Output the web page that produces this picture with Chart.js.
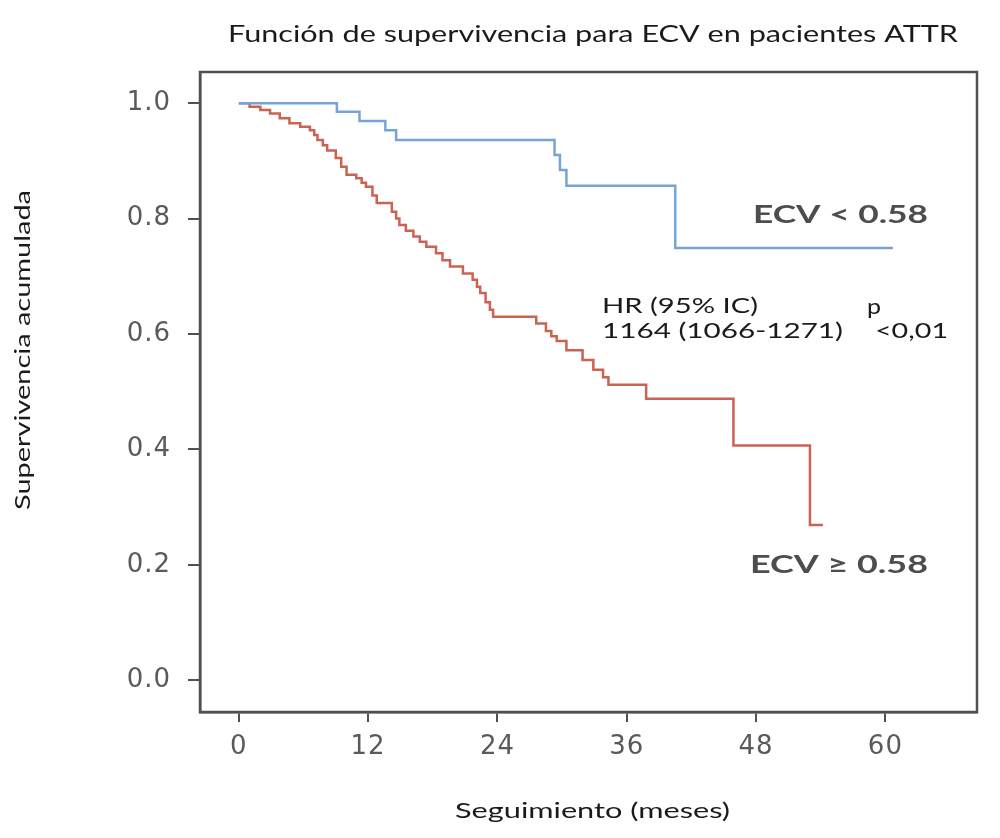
<!DOCTYPE html>
<html>
<head>
<meta charset="utf-8">
<script src="https://cdn.jsdelivr.net/npm/chart.js@4"></script>
<style>
  body { margin: 0; background: #fff; }
  #wrap { width: 1000px; height: 838px; position: relative; }
</style>
</head>
<body>
<div id="wrap"><canvas id="kmChart"></canvas></div>
<script>
// Kaplan-Meier curves (months, cumulative survival)
const redTimes = [0, 1.0, 2.0, 2.9, 3.8, 4.7, 5.7, 6.6, 7.0, 7.3, 7.8, 8.2, 9.0, 9.5, 10.0, 10.9, 11.4, 11.8, 12.4, 12.8,
  14.2, 14.6, 14.9, 15.5, 16.2, 16.8, 17.4, 18.3, 18.9, 19.6, 20.8, 21.7, 22.1, 22.4, 22.9, 23.3, 23.6,
  27.6, 28.5, 29.0, 29.5, 30.4, 31.9, 32.9, 33.8, 34.3, 37.8, 45.9, 53.0, 54.2];
const redSurv = [1.0, 0.994, 0.988, 0.982, 0.974, 0.965, 0.959, 0.953, 0.945, 0.936, 0.927, 0.918, 0.905, 0.890, 0.876, 0.870, 0.862, 0.855, 0.840, 0.827,
  0.812, 0.800, 0.789, 0.779, 0.769, 0.760, 0.751, 0.740, 0.728, 0.717, 0.705, 0.694, 0.682, 0.671, 0.655, 0.642, 0.630,
  0.618, 0.605, 0.596, 0.588, 0.572, 0.555, 0.538, 0.525, 0.512, 0.488, 0.407, 0.269, 0.269];

const blueTimes = [0, 9.1, 11.2, 13.6, 14.6, 29.3, 29.8, 30.4, 40.5, 60.7];
const blueSurv = [1.0, 0.985, 0.969, 0.953, 0.936, 0.910, 0.884, 0.857, 0.749, 0.749];

const xTicks = [0, 12, 24, 36, 48, 60];
const yTicks = [0, 0.2, 0.4, 0.6, 0.8, 1.0];

const titleText = 'Función de supervivencia para ECV en pacientes ATTR';
const xTitle = 'Seguimiento (meses)';
const yTitle = 'Supervivencia acumulada';

const toPoints = (xs, ys) => xs.map((x, i) => ({ x: x, y: ys[i] }));

// text in the figure is horizontally stretched, so fit each string to its width
function drawFit(ctx, text, x, y, size, weight, color, width, rotate) {
    ctx.save();
    ctx.font = `${weight} ${size}px Lato`;
    const sx = width / ctx.measureText(text).width;
    ctx.translate(x, y);
    if (rotate) ctx.rotate(-Math.PI / 2);
    ctx.scale(sx, 1);
    ctx.textAlign = 'left';
    ctx.textBaseline = 'alphabetic';
    ctx.fillStyle = color;
    ctx.fillText(text, 0, 0);
    ctx.restore();
}

const textPlugin = {
    id: 'figureText',
    beforeDraw(chart) {
        chart.ctx.letterSpacing = '1px';
    },
    beforeDatasetsDraw(chart) {
        const ctx = chart.ctx;
        ctx.letterSpacing = '0px';
        const a = chart.chartArea;
        ctx.save();
        ctx.strokeStyle = '#505050';
        ctx.lineWidth = 2.5;
        ctx.strokeRect(a.left, a.top, a.right - a.left, a.bottom - a.top);
        ctx.restore();
    },
    afterDraw(chart) {
        const ctx = chart.ctx;
        drawFit(ctx, titleText, 228, 42, 23, 400, '#1a1a1a', 730);
        drawFit(ctx, xTitle, 455, 818, 22, 400, '#1a1a1a', 275);
        drawFit(ctx, yTitle, 30, 510, 22, 400, '#1a1a1a', 320, true);
        drawFit(ctx, 'HR (95% IC)', 602, 313, 21, 400, '#1a1a1a', 156);
        drawFit(ctx, 'p', 867, 314, 22, 400, '#1a1a1a', 14);
        drawFit(ctx, '1164 (1066-1271)', 602, 338, 21, 400, '#1a1a1a', 241);
        drawFit(ctx, '<0,01', 875, 338, 21, 400, '#1a1a1a', 73);
        drawFit(ctx, 'ECV < 0.58', 753, 223, 25, 700, '#4d4d4d', 175);
        drawFit(ctx, 'ECV ≥ 0.58', 750, 573, 25, 700, '#4d4d4d', 178);
    }
};

new Chart(document.getElementById('kmChart'), {
    type: 'line',
    data: {
        datasets: [
            {
                label: 'ECV < 0.58',
                data: toPoints(blueTimes, blueSurv),
                borderColor: '#78a4d4',
                borderWidth: 2.5,
                stepped: true,
                pointRadius: 0,
                fill: false
            },
            {
                label: 'ECV ≥ 0.58',
                data: toPoints(redTimes, redSurv),
                borderColor: '#cc6352',
                borderWidth: 2.5,
                stepped: true,
                pointRadius: 0,
                fill: false
            }
        ]
    },
    options: {
        responsive: true,
        maintainAspectRatio: false,
        animation: false,
        layout: { padding: { top: 72, right: 23, left: 0, bottom: 0 } },
        plugins: {
            legend: { display: false },
            tooltip: { enabled: false }
        },
        scales: {
            x: {
                type: 'linear',
                min: -3.6,
                max: 68.5,
                afterFit: (scale) => { scale.height = 126; },
                afterBuildTicks: (scale) => { scale.ticks = xTicks.map(v => ({ value: v })); },
                grid: { drawOnChartArea: false, drawTicks: true, tickLength: 10, color: '#505050', lineWidth: 2 },
                border: { display: true, color: '#505050', width: 2.5 },
                ticks: {
                    padding: 10,
                    color: '#5a5a5a',
                    font: { family: 'DejaVu Sans', size: 26 }
                }
            },
            y: {
                min: -0.055,
                max: 1.054,
                afterFit: (scale) => { scale.width = 200; },
                afterBuildTicks: (scale) => { scale.ticks = yTicks.map(v => ({ value: v })); },
                grid: { drawOnChartArea: false, drawTicks: true, tickLength: 12, color: '#505050', lineWidth: 2 },
                border: { display: true, color: '#505050', width: 2.5 },
                ticks: {
                    padding: 17,
                    color: '#5a5a5a',
                    font: { family: 'DejaVu Sans', size: 26 },
                    callback: (v) => v.toFixed(1)
                }
            }
        }
    },
    plugins: [textPlugin]
});
</script>
</body>
</html>
